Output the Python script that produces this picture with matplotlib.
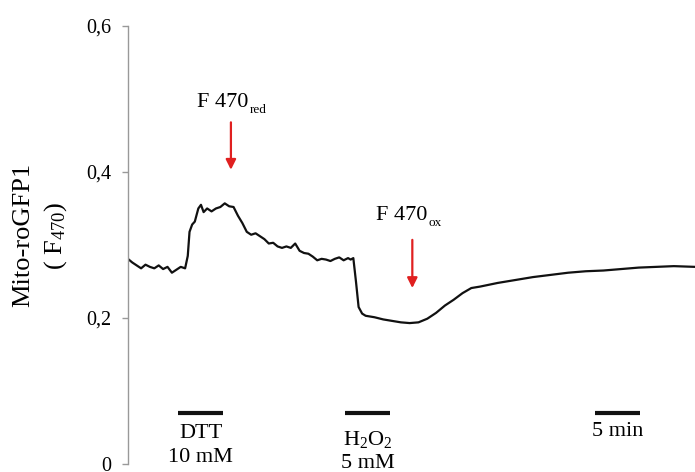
import matplotlib
matplotlib.use("Agg")
import matplotlib.pyplot as plt

plt.rcParams['font.family'] = ['Liberation Serif', 'DejaVu Serif']
plt.rcParams['mathtext.fontset'] = 'custom'
plt.rcParams['mathtext.rm'] = 'Liberation Serif'
plt.rcParams['mathtext.it'] = 'Liberation Serif'

# time (min) and F470 signal
time = [0, 0.5, 1, 1.5, 2, 2.5, 3, 3.5, 4, 4.5, 5, 5.5, 6, 6.5, 6.8, 7, 7.3, 7.6,
        8, 8.3, 8.6, 9, 9.5, 10, 10.5, 11, 11.5, 12, 12.5, 13, 13.5, 14, 14.5, 15,
        15.5, 16, 16.5, 17, 17.5, 18, 18.5, 19, 19.5, 20, 20.5, 21, 21.5, 22, 22.5,
        23, 23.5, 24, 24.5, 25, 25.3, 25.6, 25.9, 26.2, 26.6, 27, 28, 29, 30, 31,
        32, 33, 34, 35, 36, 37, 38, 39, 40, 42, 44, 46, 48, 50, 52, 54, 56, 58, 60,
        62, 64.4]
signal = [0.281, 0.276, 0.272, 0.268, 0.273, 0.270, 0.268, 0.272, 0.267, 0.270,
          0.262, 0.266, 0.270, 0.268, 0.285, 0.318, 0.328, 0.332, 0.350, 0.355,
          0.345, 0.350, 0.346, 0.350, 0.352, 0.357, 0.353, 0.352, 0.340, 0.330,
          0.318, 0.314, 0.316, 0.312, 0.308, 0.302, 0.303, 0.298, 0.296, 0.298,
          0.296, 0.302, 0.292, 0.289, 0.288, 0.284, 0.279, 0.281, 0.280, 0.278,
          0.281, 0.283, 0.279, 0.282, 0.280, 0.282, 0.250, 0.215, 0.206, 0.203,
          0.201, 0.198, 0.196, 0.194, 0.193, 0.194, 0.199, 0.207, 0.217, 0.225,
          0.234, 0.241, 0.243, 0.248, 0.252, 0.256, 0.259, 0.262, 0.264, 0.265,
          0.267, 0.269, 0.270, 0.271, 0.270]

y_ticks = [0, 0.2, 0.4, 0.6]
y_ticklabels = ['0', '0,2', '0,4', '0,6']

# treatment / scale bars (start, end) in minutes
bar_starts = [5.7, 24.7, 53.1]
bar_ends = [10.8, 29.8, 58.1]

# arrows (time, top value, tip value)
arrow_t = [11.7, 32.3]
arrow_top = [0.468, 0.307]
arrow_tip = [0.403, 0.241]
arrow_main = ['F 470', 'F 470']
arrow_sub = ['red', 'ox']
arrow_text_y = [0.495, 0.341]
arrow_text_dx = [1.95, 1.7]

fig = plt.figure(figsize=(6.95, 4.72), dpi=100)
ax = fig.add_axes([0.184, 0.017, 0.816, 0.928])
ax.plot(time, signal, color='#111111', lw=1.6, solid_joinstyle='round')
ax.set_xlim(0, 64.4)
ax.set_ylim(0, 0.6)
ax.set_yticks(y_ticks)
ax.set_yticklabels(y_ticklabels, fontsize=14.5)
ax.tick_params(axis='y', direction='out', length=4, width=1, color='#999999', pad=8)
ax.set_xticks([])
for s in ['top', 'right', 'bottom']:
    ax.spines[s].set_visible(False)
ax.spines['left'].set_color('#999999')
ax.spines['left'].set_linewidth(1.0)

# y label (two lines)
fig.text(23 / 695, 1 - 235 / 472, 'Mito-roGFP1', rotation=90, ha='center',
         va='center', fontsize=19)
fig.text(56 / 695, 1 - 236 / 472, '( F$_{470}$)', rotation=90, ha='center',
         va='center', fontsize=19)

for s0, s1 in zip(bar_starts, bar_ends):
    ax.plot([s0, s1], [0.070, 0.070], color='#111111', lw=3, solid_capstyle='butt',
            clip_on=False)

fs = 16
ax.text(8.25, 0.042, 'DTT', ha='center', va='center', fontsize=fs)
ax.text(8.25, 0.009, '10 mM', ha='center', va='center', fontsize=fs, clip_on=False)
ax.text(27.3, 0.034, 'H$_2$O$_2$', ha='center', va='center', fontsize=fs)
ax.text(27.3, 0.001, '5 mM', ha='center', va='center', fontsize=fs, clip_on=False)
ax.text(55.6, 0.044, '5 min', ha='center', va='center', fontsize=fs)

for t, top, tip, main, sub, ty, dx in zip(arrow_t, arrow_top, arrow_tip, arrow_main,
                                          arrow_sub, arrow_text_y, arrow_text_dx):
    ax.annotate('', xy=(t, tip), xytext=(t, top),
                arrowprops=dict(arrowstyle='-|>', color='#e02020', lw=1.6,
                                mutation_scale=15, shrinkA=0, shrinkB=0))
    m = ax.text(t + dx, ty, main, ha='right', va='center', fontsize=16)
    ax.annotate(sub, xy=(1, 0.1), xycoords=m, xytext=(1, 0),
                textcoords='offset points', ha='left', va='center', fontsize=9.5)

fig.savefig('out.png', dpi=100)
